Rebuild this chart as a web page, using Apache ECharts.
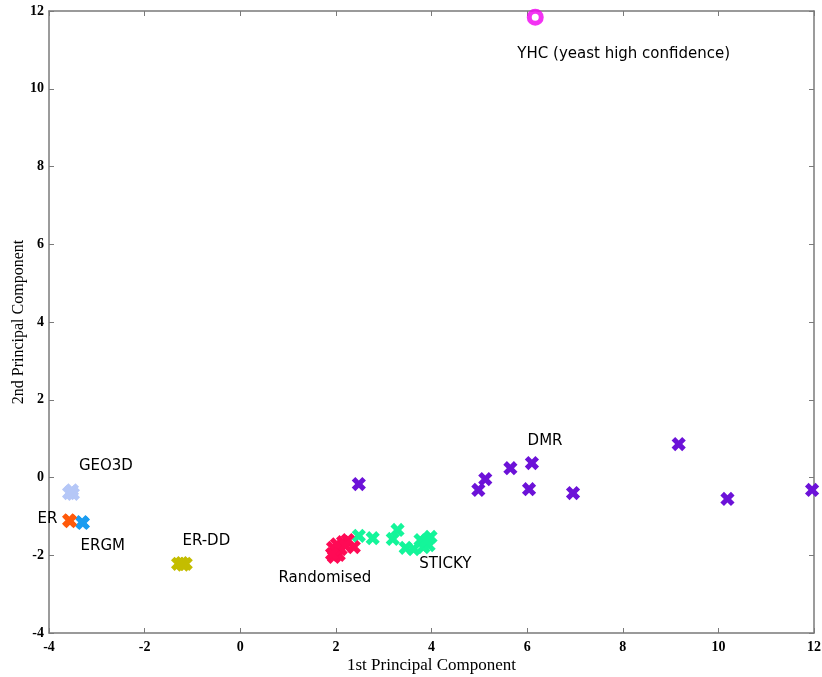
<!DOCTYPE html>
<html>
<head>
<meta charset="utf-8">
<script src="https://cdn.jsdelivr.net/npm/echarts@6/dist/echarts.min.js"></script>
<style>
  html, body { margin: 0; padding: 0; background: #fff; }
  #chart { width: 822px; height: 677px; }
</style>
</head>
<body>
<div id="chart"></div>
<script>
// PCA projection of network models vs. the YHC yeast interaction network
const xTicks = [-4, -2, 0, 2, 4, 6, 8, 10, 12];
const yTicks = [-4, -2, 0, 2, 4, 6, 8, 10, 12];

const yhcPoints = [[6.17, 11.84]];
const geo3dPoints = [[-3.58, -0.40], [-3.52, -0.33], [-3.55, -0.37], [-3.50, -0.42]];
const erPoints = [[-3.56, -1.12], [-3.58, -1.10]];
const ergmPoints = [[-3.29, -1.17], [-3.31, -1.15]];
const erddPoints = [[-1.30, -2.22], [-1.22, -2.20], [-1.14, -2.22], [-1.20, -2.24]];
const randomisedPoints = [
  [2.00, -1.94], [1.94, -1.81], [2.15, -1.66], [2.25, -1.61], [2.375, -1.79],
  [2.06, -1.99], [1.96, -2.04], [2.10, -1.84], [2.02, -1.72], [2.20, -1.75], [1.92, -1.97]
];
const stickyPoints = [
  [2.48, -1.50], [2.77, -1.56], [3.19, -1.58], [3.29, -1.35], [3.46, -1.81],
  [3.625, -1.84], [3.83, -1.79], [3.98, -1.53], [3.94, -1.74], [3.77, -1.61], [3.90, -1.62]
];
const dmrPoints = [
  [2.48, -0.17], [5.125, -0.04], [4.98, -0.32], [5.65, 0.24], [6.10, 0.37],
  [6.04, -0.30], [6.96, -0.40], [9.17, 0.86], [10.19, -0.55], [11.96, -0.32]
];

// Group names and where each name is written
const groupLabels = [
  ['YHC (yeast high confidence)', 8.02, 10.89],
  ['GEO3D', -2.81, 0.30],
  ['ER', -4.03, -1.07],
  ['ERGM', -2.875, -1.76],
  ['ER-DD', -0.71, -1.63],
  ['Randomised', 1.77, -2.59],
  ['STICKY', 4.29, -2.23],
  ['DMR', 6.375, 0.94]
];

const crossPath = 'path://M3.3,0 H6.7 V3.3 H10 V6.7 H6.7 V10 H3.3 V6.7 H0 V3.3 H3.3 Z';

function crossSeries(name, data, color) {
  return {
    name: name,
    type: 'scatter',
    data: data,
    symbol: crossPath,
    symbolRotate: 45,
    symbolSize: 15,
    itemStyle: { color: color, opacity: 1 },
    z: 3
  };
}

const axisGrey = '#7a7a7a';
const tickFont = { fontFamily: 'Liberation Serif', fontWeight: 'bold', fontSize: 14, color: '#000' };

const chart = echarts.init(document.getElementById('chart'));
chart.setOption({
  animation: false,
  backgroundColor: '#fff',
  grid: { left: 49, right: 8, top: 11, bottom: 44, containLabel: false, outerBoundsMode: 'none' },
  xAxis: [
    {
      type: 'value', min: -4, max: 12, interval: 2, position: 'bottom',
      axisLine: { show: true, onZero: false, lineStyle: { color: axisGrey, width: 1.5 } },
      axisTick: { show: true, inside: true, length: 5, lineStyle: { color: axisGrey } },
      axisLabel: Object.assign({ margin: 7, formatter: v => xTicks.includes(v) ? String(v) : '' }, tickFont),
      splitLine: { show: false },
      name: '1st Principal Component', nameLocation: 'middle', nameGap: 24, nameMoveOverlap: false,
      nameTextStyle: { fontFamily: 'Liberation Serif', fontSize: 17, color: '#000' }
    },
    {
      type: 'value', min: -4, max: 12, interval: 2, position: 'top',
      axisLine: { show: true, onZero: false, lineStyle: { color: axisGrey, width: 1.5 } },
      axisTick: { show: true, inside: true, length: 5, lineStyle: { color: axisGrey } },
      axisLabel: { show: false }, splitLine: { show: false }
    }
  ],
  yAxis: [
    {
      type: 'value', min: -4, max: 12, interval: 2, position: 'left',
      axisLine: { show: true, onZero: false, lineStyle: { color: axisGrey, width: 1.5 } },
      axisTick: { show: true, inside: true, length: 5, lineStyle: { color: axisGrey } },
      axisLabel: Object.assign({ margin: 5, formatter: v => yTicks.includes(v) ? String(v) : '' }, tickFont),
      splitLine: { show: false },
      name: '2nd Principal Component', nameLocation: 'middle', nameGap: 22, nameRotate: 90, nameMoveOverlap: false,
      nameTextStyle: { fontFamily: 'Liberation Serif', fontSize: 16, color: '#000' }
    },
    {
      type: 'value', min: -4, max: 12, interval: 2, position: 'right',
      axisLine: { show: true, onZero: false, lineStyle: { color: axisGrey, width: 1.5 } },
      axisTick: { show: true, inside: true, length: 5, lineStyle: { color: axisGrey } },
      axisLabel: { show: false }, splitLine: { show: false }
    }
  ],
  series: [
    crossSeries('DMR', dmrPoints, '#6c12d8'),
    crossSeries('STICKY', stickyPoints, '#14f59a'),
    crossSeries('Randomised', randomisedPoints, '#ff0a55'),
    crossSeries('ER-DD', erddPoints, '#c4bd00'),
    crossSeries('GEO3D', geo3dPoints, '#b5c7f7'),
    crossSeries('ERGM', ergmPoints, '#1a9cf0'),
    crossSeries('ER', erPoints, '#ff5a0a'),
    {
      name: 'YHC',
      type: 'scatter',
      data: yhcPoints,
      symbol: 'circle',
      symbolSize: 12,
      itemStyle: { color: '#fff', borderColor: '#f000f0', borderWidth: 5 },
      z: 4
    },
    {
      name: 'labels',
      type: 'scatter',
      data: groupLabels.map(d => ({ value: [d[1], d[2]], name: d[0] })),
      symbolSize: 0,
      clip: false,
      silent: true,
      itemStyle: { color: '#000000' },
      label: {
        show: true,
        position: 'inside',
        formatter: p => p.name,
        fontFamily: 'DejaVu Sans',
        fontSize: 15,
        color: '#000000',
        opacity: 1,
        textBorderWidth: 0
      },
      z: 5
    }
  ]
});
</script>
</body>
</html>
